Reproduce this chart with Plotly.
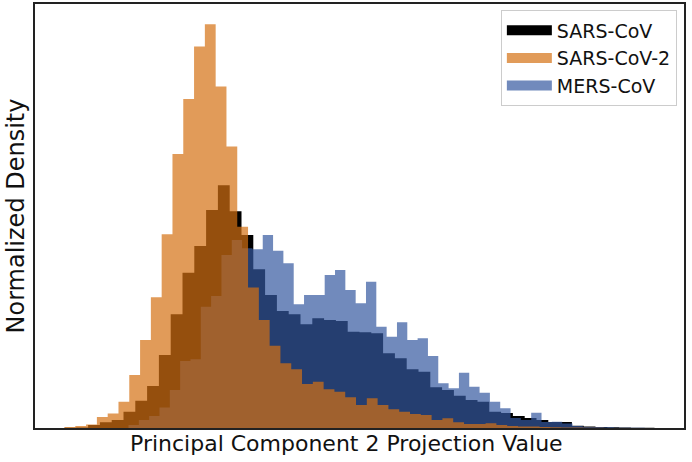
import numpy as np
import plotly.graph_objects as go

# ---- data (normalized density per histogram bin) ----
series_names = ["SARS-CoV", "SARS-CoV-2", "MERS-CoV"]

sars_start, sars_width = -3.0, 0.2
sars_density = [0.003, 0.005, 0.03, 0.057, 0.08, 0.163, 0.273, 0.42, 0.73, 1.137,
                1.553, 1.82, 2.18, 2.427, 2.167, 1.93, 1.587, 1.33, 1.17, 1.137,
                1.037, 1.097, 1.08, 1.07, 0.963, 0.957, 0.947, 0.747, 0.697, 0.587,
                0.563, 0.407, 0.38, 0.323, 0.28, 0.263, 0.163, 0.15, 0.12, 0.10,
                0.08, 0.06, 0.06, 0.023, 0.015, 0.01, 0.007, 0.004, 0.003, 0.003]

sars2_start, sars2_width = -3.0, 0.183
sars2_density = [0.01, 0.02, 0.035, 0.11, 0.145, 0.263, 0.53, 0.88, 1.307, 1.937,
                 2.74, 3.29, 3.813, 4.037, 3.413, 2.813, 2.013, 1.405, 1.08, 0.823,
                 0.647, 0.587, 0.44, 0.463, 0.387, 0.363, 0.307, 0.23, 0.297, 0.23,
                 0.187, 0.163, 0.14, 0.13, 0.08, 0.097, 0.057, 0.04, 0.04, 0.047,
                 0.03, 0.02, 0.015, 0.015, 0.01, 0.007, 0.005, 0.004, 0.003, 0.002]

mers_start, mers_width = -1.915, 0.175
mers_density = [0.03, 0.08, 0.12, 0.205, 0.38, 0.67, 0.687, 1.213, 1.32, 1.73,
                1.88, 1.797, 1.787, 1.93, 1.773, 1.647, 1.237, 1.33, 1.33, 1.53,
                1.58, 1.38, 1.247, 1.463, 1.013, 0.913, 1.057, 0.88, 0.897, 0.72,
                0.447, 0.397, 0.553, 0.413, 0.353, 0.263, 0.197, 0.10, 0.08, 0.153,
                0.06, 0.063, 0.045, 0.02, 0.01, 0.01, 0.007, 0.003, 0.002, 0.002]

x_label = "Principal Component 2 Projection Value"
y_label = "Normalized Density"

# ---- styles ----
colors = {"SARS-CoV": (0, 0, 0), "SARS-CoV-2": (212, 112, 18), "MERS-CoV": (52, 88, 160)}
alphas = {"SARS-CoV": 1.0, "SARS-CoV-2": 0.7, "MERS-CoV": 0.7}
FONT = "DejaVu Sans"
W, H = 692, 462
M = dict(l=35, r=8, t=4, b=34)


def rgba(name):
    r, g, b = colors[name]
    return f"rgba({r},{g},{b},{alphas[name]})"


def step(start, width, dens):
    edges = start + width * np.arange(len(dens) + 1)
    return edges, list(dens) + [dens[-1]]


hists = {
    "SARS-CoV": step(sars_start, sars_width, sars_density),
    "SARS-CoV-2": step(sars2_start, sars2_width, sars2_density),
    "MERS-CoV": step(mers_start, mers_width, mers_density),
}

fig = go.Figure()
# drawing order: black, blue, orange (orange on top)
for name in ["SARS-CoV", "MERS-CoV", "SARS-CoV-2"]:
    ex, ey = hists[name]
    fig.add_trace(go.Scatter(
        x=ex, y=ey, mode="lines", line=dict(shape="hv", width=0, color=rgba(name)),
        fill="tozeroy", fillcolor=rgba(name),
        showlegend=False, hoverinfo="skip"))

# legend entries
for i, name in enumerate(series_names):
    fig.add_trace(go.Scatter(
        x=[None], y=[None], mode="lines", name=name, legendrank=i + 1,
        legendgroup=name, line=dict(color=rgba(name), width=13)))

all_edges = np.concatenate([hists[n][0] for n in series_names])
xmin, xmax = all_edges.min(), all_edges.max()
pad = 0.05 * (xmax - xmin)
ymax = max(max(sars_density), max(sars2_density), max(mers_density)) * 1.05

axis_common = dict(showgrid=False, zeroline=False, showticklabels=False, ticks="",
                   showline=True, mirror=True, linecolor="#222", linewidth=1.6,
                   automargin=False)

# x label is centred on the whole figure (as in the original)
plot_w = W - M["l"] - M["r"]
plot_h = H - M["t"] - M["b"]
xlabel_x = (W / 2 - M["l"]) / plot_w
xlabel_y = -15 / plot_h

fig.update_layout(
    width=W, height=H,
    margin=dict(**M, autoexpand=False),
    paper_bgcolor="white", plot_bgcolor="white",
    font=dict(family=FONT, color="#111"),
    xaxis=dict(range=[xmin - pad, xmax + pad], **axis_common),
    yaxis=dict(range=[0, ymax],
               title=dict(text=y_label, font=dict(size=24, family=FONT), standoff=2),
               **axis_common),
    legend=dict(x=0.989, y=0.985, xanchor="right", yanchor="top",
                bgcolor="white", bordercolor="#cccccc", borderwidth=1,
                font=dict(size=19, family=FONT), tracegroupgap=0,
                itemwidth=45, traceorder="grouped"),
    showlegend=True,
    annotations=[dict(text=x_label, xref="paper", yref="paper",
                      x=xlabel_x, y=xlabel_y, xanchor="center", yanchor="middle",
                      showarrow=False, font=dict(size=22, family=FONT, color="#111"))],
)

fig.write_html("out.html", post_script="document.body.style.margin='0px';",
               config={"displayModeBar": False})
